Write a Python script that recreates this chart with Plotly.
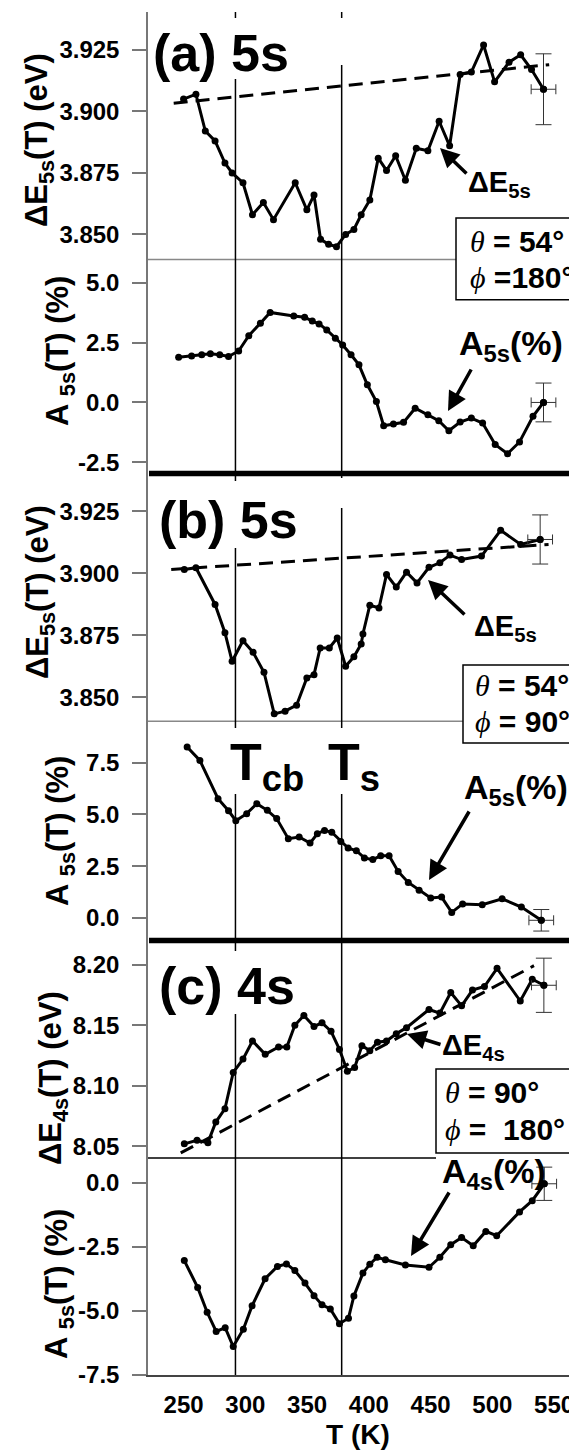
import plotly.graph_objects as go

# ---------------- data ----------------
T_a1 = [250, 260, 267.6, 275.5, 283.5, 289.3, 298.1, 305.8, 314.6, 322.8, 340.4, 349.8, 355.6, 360.9, 367.4,
        373.8, 381.2, 387.9, 393.8, 400.8, 407.6, 414.3, 421.7, 429.6, 438.4, 447.8, 456.9, 465.4, 473.9, 483.0,
        492.9, 501.8, 513.5, 522.9, 531.7, 541.4]
E_a1 = [3.905, 3.907, 3.892, 3.888, 3.879, 3.875, 3.871, 3.858, 3.863, 3.856, 3.871, 3.860, 3.866, 3.848, 3.846,
        3.845, 3.850, 3.852, 3.858, 3.864, 3.881, 3.876, 3.882, 3.872, 3.885, 3.884, 3.896, 3.886, 3.915, 3.916,
        3.927, 3.912, 3.920, 3.923, 3.917, 3.909]

T_a2 = [246, 256.5, 264.7, 271.7, 279.3, 286.4, 294.6, 302.8, 312.2, 320.1, 339.2, 348.0, 354.2, 359.7, 365.9,
        372.9, 378.8, 385.6, 392.0, 398.8, 406.1, 412.0, 419.9, 428.1, 437.5, 447.8, 456.6, 464.8, 473.9, 483.0,
        492.1, 502.3, 512.3, 522.0, 532.9, 541.4]
A_a2 = [1.89, 1.94, 1.99, 2.03, 1.99, 1.92, 2.15, 2.79, 3.31, 3.76, 3.61, 3.56, 3.40, 3.28, 3.03,
        2.68, 2.40, 1.99, 1.57, 0.74, 0.04, -0.97, -0.90, -0.83, -0.24, -0.51, -0.76, -1.18, -0.82, -0.65,
        -0.86, -1.76, -2.14, -1.65, -0.58, 0.0]

T_b1 = [250.6, 260, 275.5, 283.5, 289.3, 298.1, 306.3, 315.1, 323.4, 332.2, 341.5, 349.8, 355.6, 360.6, 368.0,
        374.4, 381.2, 387.9, 393.8, 395.2, 400.8, 408.2, 414.3, 422.2, 430.5, 439.0, 448.7, 457.5, 465.7, 475.1,
        491.2, 506.7, 522.9, 538.7]
E_b1 = [3.9015, 3.9022, 3.8874, 3.876, 3.8645, 3.8728, 3.8681, 3.8601, 3.8433, 3.8444, 3.8468, 3.8578, 3.8591,
        3.8699, 3.8699, 3.8739, 3.8625, 3.8663, 3.8715, 3.8755, 3.8871, 3.886, 3.8995, 3.8944, 3.9004, 3.8961,
        3.9024, 3.9042, 3.9073, 3.9055, 3.9069, 3.9173, 3.9116, 3.9136]

T_b2 = [252.9, 263.2, 277.9, 286.4, 292.3, 301.1, 309.3, 317.8, 325.4, 334.8, 343.6, 352.4, 358.3, 364.1, 370.0,
        377.3, 383.2, 389.9, 396.4, 403.2, 409.6, 416.4, 423.7, 431.9, 440.7, 450.1, 458.9, 467.1, 475.9, 491.8,
        507.9, 523.5, 539.6]
A_b2 = [8.26, 7.61, 5.76, 5.18, 4.70, 5.04, 5.52, 5.20, 4.80, 3.83, 3.91, 3.62, 4.07, 4.23, 4.14,
        3.70, 3.38, 3.25, 2.90, 2.82, 3.01, 3.01, 2.25, 1.72, 1.34, 0.97, 1.01, 0.27, 0.68, 0.64,
        0.93, 0.53, -0.11]

T_c1 = [250.6, 260.9, 269.7, 276.1, 283.5, 290.2, 298.1, 305.8, 316.1, 326.9, 333.6, 340.1, 347.4, 355.6, 362.1,
        369.4, 376.2, 382.6, 388.5, 394.4, 400.8, 407.0, 414.3, 422.2, 430.5, 448.7, 457.5, 466.3, 475.1, 483.9,
        493.6, 503.8, 522.6, 532.3, 541.7]
E_c1 = [8.052, 8.055, 8.053, 8.070, 8.081, 8.111, 8.122, 8.137, 8.126, 8.132, 8.132, 8.150, 8.158, 8.149, 8.152,
        8.145, 8.130, 8.112, 8.115, 8.133, 8.129, 8.136, 8.137, 8.143, 8.148, 8.163, 8.160, 8.177, 8.166, 8.179,
        8.182, 8.197, 8.170, 8.188, 8.183]

T_c2 = [250.6, 261.4, 269.1, 276.4, 283.7, 290.2, 298.4, 305.5, 316.0, 326.0, 333.3, 340.1, 348.3, 355.6, 362.1,
        368.8, 376.2, 383.5, 387.9, 395.2, 400.8, 406.7, 413.4, 429.6, 448.7, 457.5, 466.3, 475.1, 484.5, 494.7,
        503.5, 522.0, 532.3, 542.0]
A_c2 = [-3.03, -4.08, -5.05, -5.80, -5.65, -6.39, -5.71, -4.79, -3.74, -3.26, -3.16, -3.42, -3.91, -4.40, -4.76,
        -4.92, -5.50, -5.28, -4.41, -3.52, -3.17, -2.90, -3.00, -3.20, -3.29, -2.90, -2.41, -2.13, -2.45, -1.89,
        -2.06, -1.13, -0.69, -0.03]

# dashed reference (baseline) lines
T_ref_a = [242, 546]
E_ref_a = [3.9033, 3.919]
T_ref_b = [240, 545.5]
E_ref_b = [3.9015, 3.9116]
T_ref_c = [247.7, 533.7]
E_ref_c = [8.0445, 8.1992]

# error bars for last point of each series
err_T = 10
err_y = [0.0144, 0.81, 0.0099, 0.52, 0.0224, 0.65]

# characteristic temperatures
T_CB = 292
T_S = 378

x_ticks = [250, 300, 350, 400, 450, 500, 550]
x_ticktext = ["250", "300", "350", "400", "450", "500", "550"]
tick_E5 = [3.850, 3.875, 3.900, 3.925]
tick_E5_text = ["3.850", "3.875", "3.900", "3.925"]
tick_Aa = [-2.5, 0.0, 2.5, 5.0]
tick_Aa_text = ["-2.5", "0.0", "2.5", "5.0"]
tick_Ab = [0.0, 2.5, 5.0, 7.5]
tick_Ab_text = ["0.0", "2.5", "5.0", "7.5"]
tick_E4 = [8.05, 8.10, 8.15, 8.20]
tick_E4_text = ["8.05", "8.10", "8.15", "8.20"]
tick_Ac = [-7.5, -5.0, -2.5, 0.0]
tick_Ac_text = ["-7.5", "-5.0", "-2.5", "0.0"]

# ---------------- layout helpers ----------------
W, H = 577, 1450
ML, MT, MB = 140, 4, 83
PW = W - ML
PH = H - MT - MB


def px(x):
    return (x - ML) / PW


def py(y):
    return (H - MB - y) / PH


FONT = "Liberation Sans, Arial, sans-serif"
bounds = [4, 251.5, 465.5, 713.3, 932.5, 1150, 1367]

fig = go.Figure()

series = [
    (T_a1, E_a1, "y"), (T_a2, A_a2, "y2"), (T_b1, E_b1, "y3"),
    (T_b2, A_b2, "y4"), (T_c1, E_c1, "y5"), (T_c2, A_c2, "y6"),
]
refs = [(T_ref_a, E_ref_a, "y"), (T_ref_b, E_ref_b, "y3"), (T_ref_c, E_ref_c, "y5")]

for tx, ty, ya in refs:
    fig.add_trace(go.Scatter(x=tx, y=ty, yaxis=ya, mode="lines",
                             line=dict(color="black", width=3, dash="14px,8px"),
                             showlegend=False, hoverinfo="skip"))

for i, (tx, ty, ya) in enumerate(series):
    fig.add_trace(go.Scatter(x=tx, y=ty, yaxis=ya, mode="lines+markers",
                             line=dict(color="black", width=3),
                             marker=dict(color="black", size=7),
                             showlegend=False))
    fig.add_trace(go.Scatter(x=tx[-1:], y=ty[-1:], yaxis=ya, mode="markers",
                             marker=dict(color="black", size=7),
                             error_y=dict(type="constant", value=err_y[i], color="#333", thickness=1, width=8),
                             error_x=dict(type="constant", value=err_T, color="#333", thickness=1, width=5),
                             showlegend=False))

yax_common = dict(showline=True, linecolor="#777", linewidth=1.5, ticks="outside", ticklen=14,
                  tickcolor="#777", tickwidth=1.5, showgrid=False, zeroline=False, anchor="x",
                  tickfont=dict(family=FONT, size=24, color="black", weight="bold"),
                  ticklabelstandoff=8)
yranges = [[3.8398, 3.9404], [-2.967, 5.97], [3.8403, 3.9402], [-1.086, 9.5], [8.0403, 8.22], [-7.5, 0.977]]
ytv = [(tick_E5, tick_E5_text), (tick_Aa, tick_Aa_text), (tick_E5, tick_E5_text),
       (tick_Ab, tick_Ab_text), (tick_E4, tick_E4_text), (tick_Ac, tick_Ac_text)]

layout_axes = {}
for i in range(6):
    name = "yaxis" if i == 0 else f"yaxis{i+1}"
    d = dict(yax_common)
    d.update(domain=[py(bounds[i + 1]), py(bounds[i])], range=yranges[i],
             tickvals=ytv[i][0], ticktext=ytv[i][1])
    layout_axes[name] = d

fig.update_layout(
    width=W, height=H, margin=dict(l=ML, r=0, t=MT, b=MB, pad=0),
    paper_bgcolor="white", plot_bgcolor="white",
    xaxis=dict(range=[221.2, 575], domain=[0, 1], anchor="y6", showline=True, linecolor="#444",
               linewidth=2, ticks="", showgrid=False, zeroline=False, tickvals=x_ticks, ticktext=x_ticktext,
               tickfont=dict(family=FONT, size=24, color="black", weight="bold"), ticklabelstandoff=7),
    **layout_axes,
)

shapes = []
# panel dividers
shapes.append(dict(type="line", xref="paper", yref="paper", x0=px(ML), x1=px(448), y0=py(251.5), y1=py(251.5),
                   line=dict(color="#888", width=1.5), layer="above"))
shapes.append(dict(type="line", xref="paper", yref="paper", x0=px(ML), x1=px(455), y0=py(713.3), y1=py(713.3),
                   line=dict(color="#888", width=1.5), layer="above"))
shapes.append(dict(type="line", xref="paper", yref="paper", x0=px(ML), x1=px(428), y0=py(1150), y1=py(1150),
                   line=dict(color="black", width=1.5), layer="above"))
for yb in (465.5, 932.5):
    shapes.append(dict(type="line", xref="paper", yref="paper", x0=px(ML + 1), x1=px(600), y0=py(yb), y1=py(yb),
                       line=dict(color="black", width=5.5), layer="above"))
# vertical temperature markers (segments broken where labels sit)
seg_cb = [(4, 10), (71, 473), (540, 720), (786, 943), (1006, 1367)]
seg_s = [(4, 10), (57, 470), (500, 720), (786, 1367)]
for Tv, segs in ((T_CB, seg_cb), (T_S, seg_s)):
    for a, b in segs:
        shapes.append(dict(type="line", xref="x", yref="paper", x0=Tv, x1=Tv, y0=py(b), y1=py(a),
                           line=dict(color="black", width=1.5), layer="above"))
# parameter boxes
for (x0, y0, y1) in ((448, 210, 291.7), (455, 657, 735), (428, 1061, 1145)):
    shapes.append(dict(type="rect", xref="paper", yref="paper", x0=px(x0), x1=px(600), y0=py(y1), y1=py(y0),
                       line=dict(color="black", width=1.5), fillcolor="white", layer="above"))
fig.update_layout(shapes=shapes)

ann = []


def txt(text, x, y, size, xanchor="left", yanchor="middle", angle=0):
    ann.append(dict(text=text, x=px(x), y=py(y), xref="paper", yref="paper", showarrow=False,
                    xanchor=xanchor, yanchor=yanchor, textangle=angle,
                    font=dict(family=FONT, size=size, color="black", weight="bold")))


def arrow(hx, hy, tx, ty):
    ann.append(dict(text="", x=px(hx), y=py(hy), xref="paper", yref="paper", showarrow=True,
                    ax=tx - hx, ay=ty - hy, arrowhead=2, arrowsize=1.1, arrowwidth=3.5, arrowcolor="black"))


# panel labels
txt("(a) 5s", 143, 45, 52)
txt("(b) 5s", 149, 512, 52)
txt("(c) 4s", 149, 978, 52)
# curve labels
txt("ΔE<sub>5s</sub>", 458, 176, 29)
txt("A<sub>5s</sub>(%)", 449, 337, 34)
txt("ΔE<sub>5s</sub>", 464, 620, 29)
txt("A<sub>5s</sub>(%)", 454, 781, 34)
txt("ΔE<sub>4s</sub>", 432, 1039, 29)
txt("A<sub>4s</sub>(%)", 432, 1165, 34)
arrow(432, 140, 460, 167)
arrow(440, 403, 464, 360)
arrow(420, 572, 458, 608)
arrow(421, 872, 462, 802)
arrow(399, 1026, 434, 1037)
arrow(403, 1248, 442, 1183)
# T markers
txt("T<sub>cb</sub>", 220, 758, 52)
txt("T<sub>s</sub>", 318, 758, 52)
# box texts
TH = "<span style=\"font-family:'Liberation Serif';font-weight:normal\"><i>θ</i></span>"
PH_ = "<span style=\"font-family:'Liberation Serif';font-weight:normal\"><i>ϕ</i></span>"
txt(TH + " = 54°", 460, 233, 30)
txt(PH_ + " =180°", 460, 269, 30)
txt(TH + " = 54°", 465, 677, 30)
txt(PH_ + " = 90°", 465, 714, 30)
txt(TH + " = 90°", 435, 1084, 30)
txt(PH_ + " =\u00a0 180°", 435, 1121, 30)
# axis titles
txt("ΔE<sub>5s</sub>(T) (eV)", 31, 132, 31, "center", "middle", -90)
txt("A <sub>5s</sub>(T) (%)", 52, 343, 31, "center", "middle", -90)
txt("ΔE<sub>5s</sub>(T) (eV)", 32, 584, 31, "center", "middle", -90)
txt("A <sub>5s</sub>(T) (%)", 52, 823, 31, "center", "middle", -90)
txt("ΔE<sub>4s</sub>(T) (eV)", 45, 1070, 31, "center", "middle", -90)
txt("A <sub>5s</sub>(T) (%)", 51, 1276, 31, "center", "middle", -90)
txt("T (K)", 350, 1444, 28, "center", "bottom")

fig.update_layout(annotations=ann)
fig.write_html("out.html")
